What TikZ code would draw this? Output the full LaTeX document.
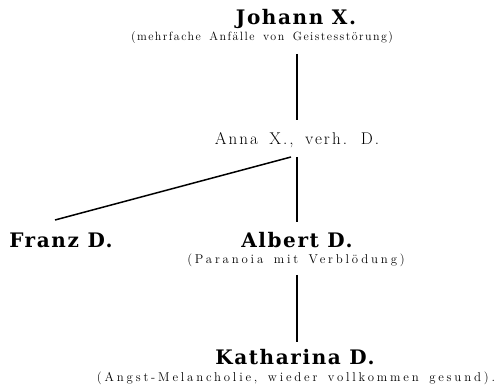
\documentclass[tikz,border=0pt]{standalone}
\usepackage{fontspec}
\setmainfont{Liberation Serif}
\newfontfamily\namefont[LetterSpace=8]{DejaVu Serif}
\newfontfamily\notefont[LetterSpace=12, WordSpace=1.4]{Latin Modern Roman}
\newfontfamily\widenotefont[LetterSpace=22, WordSpace=1.5]{Latin Modern Roman}
\newfontfamily\plainfont[LetterSpace=12, WordSpace=1.6]{Latin Modern Roman}
\usepackage{tikz}

\begin{document}
\begin{tikzpicture}[x=1pt, y=1pt, line width=1.5pt,
    person/.style={anchor=base, inner sep=0pt, font=\namefont\bfseries\fontsize{20}{20}\selectfont},
    note/.style={anchor=base, inner sep=0pt, font=\notefont\fontsize{12}{12}\selectfont},
    widenote/.style={anchor=base, inner sep=0pt, font=\widenotefont\fontsize{12.8}{12.8}\selectfont},
    marriage/.style={anchor=base, inner sep=0pt, font=\plainfont\fontsize{17}{17}\selectfont}];

    \useasboundingbox (0,0) rectangle (501,388);

    \node[person] (johann) at (296,363) {Johann X.};
    \node[note] (johannnote) at (262,347) {(mehrfache Anfälle von Geistesstörung)};

    \node[marriage] (anna) at (297,243) {Anna X., verh. D.};

    \node[person] (franz) at (61,140) {Franz D.};
    \node[person] (albert) at (297,140) {Albert D.};
    \node[widenote] (albertnote) at (296,124.5) {(Paranoia mit Verblödung)};

    \node[person] (katharina) at (295,23) {Katharina D.};
    \node[widenote] (katharinanote) at (296,6) {(Angst-Melancholie, wieder vollkommen gesund).};

    \draw ([yshift=-13pt]johannnote.base -| anna.base) -- ([yshift=25pt]anna.base);
    \draw ([shift={(-6pt,-12pt)}]anna.base) -- ([shift={(-6pt,28pt)}]franz.base);
    \draw ([yshift=-12pt]anna.base) -- ([yshift=26pt]albert.base -| anna.base);
    \draw ([yshift=-11.5pt]albertnote.base -| anna.base) -- ([yshift=23pt]katharina.base -| anna.base);
\end{tikzpicture}
\end{document}
